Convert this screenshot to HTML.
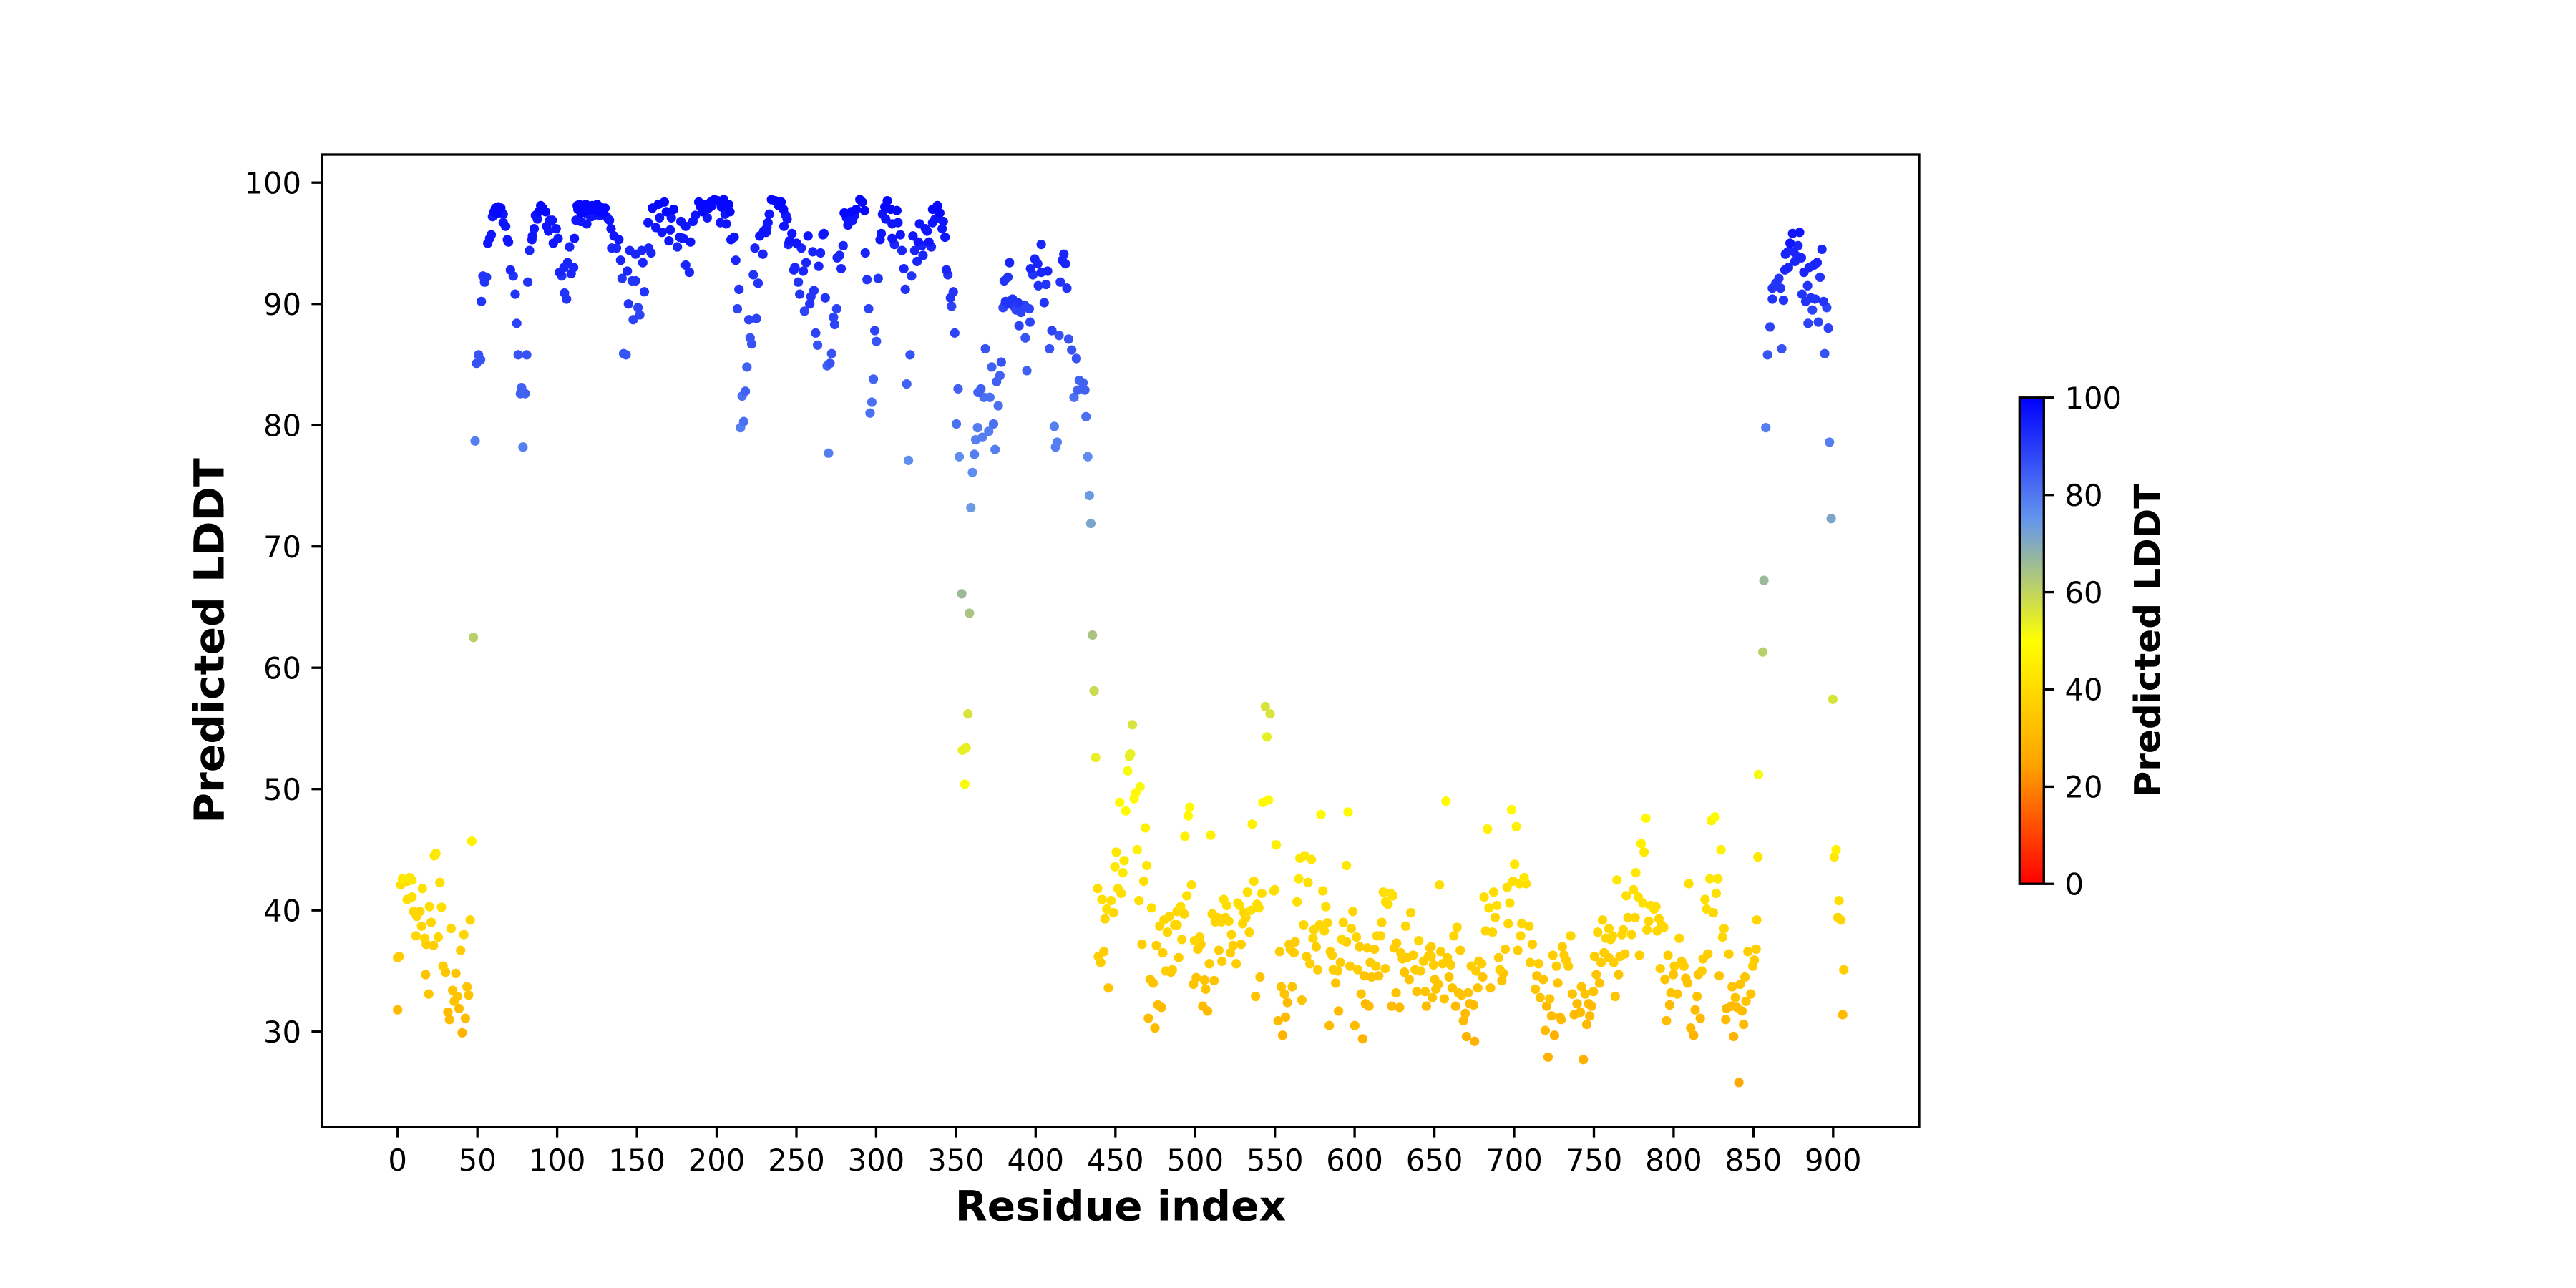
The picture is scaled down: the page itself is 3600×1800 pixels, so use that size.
<!DOCTYPE html>
<html>
<head>
<meta charset="utf-8">
<style>
html,body{margin:0;padding:0;background:#fff;}
svg{display:block;}
text{font-family:"DejaVu Sans","Liberation Sans",sans-serif;fill:#000;}
</style>
</head>
<body>
<svg width="3600" height="1800" viewBox="0 0 3600 1800" xmlns="http://www.w3.org/2000/svg">
<defs>
<ellipse id="d" cx="0" cy="0" rx="2.961" ry="0.3894"/>
<linearGradient id="cm" x1="0" y1="0" x2="0" y2="1">
<stop offset="0" stop-color="#0000ff"/>
<stop offset="0.25" stop-color="#6495ed"/>
<stop offset="0.5" stop-color="#ffff00"/>
<stop offset="0.75" stop-color="#ffa500"/>
<stop offset="1" stop-color="#ff0000"/>
</linearGradient>
</defs>
<rect x="0" y="0" width="3600" height="1800" fill="#fff"/>

<!-- data points -->
<g transform="matrix(2.229,0,0,-16.95,555.7,1950.2)">
<g fill="#ffaa00"><use href="#d" x="840.9" y="25.8"/></g>
<g fill="#ffb300"><use href="#d" x="40.5" y="29.9"/><use href="#d" x="605" y="29.4"/><use href="#d" x="554.9" y="29.7"/><use href="#d" x="670.1" y="29.6"/><use href="#d" x="675.2" y="29.2"/><use href="#d" x="725.3" y="29.7"/><use href="#d" x="721.3" y="27.9"/><use href="#d" x="743.4" y="27.7"/><use href="#d" x="812.5" y="29.7"/><use href="#d" x="837.6" y="29.6"/></g>
<g fill="#ffbb00"><use href="#d" x="0" y="31.8"/><use href="#d" x="31.5" y="31.6"/><use href="#d" x="32.5" y="31"/><use href="#d" x="38.5" y="31.9"/><use href="#d" x="42.5" y="31.1"/><use href="#d" x="606.8" y="32.3"/><use href="#d" x="609" y="32.1"/><use href="#d" x="623.3" y="32.1"/><use href="#d" x="628.2" y="32"/><use href="#d" x="589.9" y="31.7"/><use href="#d" x="584.1" y="30.5"/><use href="#d" x="600.1" y="30.5"/><use href="#d" x="557.9" y="32.4"/><use href="#d" x="552" y="30.9"/><use href="#d" x="556.7" y="31.2"/><use href="#d" x="476.7" y="32.2"/><use href="#d" x="479" y="32"/><use href="#d" x="470.7" y="31.1"/><use href="#d" x="474.8" y="30.3"/><use href="#d" x="504.8" y="32.1"/><use href="#d" x="507.8" y="31.7"/><use href="#d" x="645" y="32.1"/><use href="#d" x="663.3" y="32.1"/><use href="#d" x="672.2" y="32.3"/><use href="#d" x="674.6" y="32.2"/><use href="#d" x="669.4" y="31.5"/><use href="#d" x="668.2" y="30.9"/><use href="#d" x="720.4" y="32.1"/><use href="#d" x="723.5" y="31.3"/><use href="#d" x="728.8" y="31.2"/><use href="#d" x="729.5" y="31"/><use href="#d" x="719.5" y="30.1"/><use href="#d" x="739.5" y="32.3"/><use href="#d" x="746.7" y="32.3"/><use href="#d" x="748.5" y="32.1"/><use href="#d" x="737.7" y="31.4"/><use href="#d" x="741.5" y="31.6"/><use href="#d" x="747.4" y="31.3"/><use href="#d" x="745.5" y="30.6"/><use href="#d" x="797.5" y="32.2"/><use href="#d" x="795.5" y="30.9"/><use href="#d" x="813.5" y="31.8"/><use href="#d" x="816.7" y="31.1"/><use href="#d" x="810.7" y="30.3"/><use href="#d" x="833.1" y="31.9"/><use href="#d" x="836.1" y="32.1"/><use href="#d" x="839.7" y="32"/><use href="#d" x="842.9" y="31.7"/><use href="#d" x="832.7" y="31"/><use href="#d" x="843.9" y="30.6"/><use href="#d" x="906" y="31.4"/></g>
<g fill="#ffc400"><use href="#d" x="17.5" y="34.7"/><use href="#d" x="19.5" y="33.1"/><use href="#d" x="30" y="34.9"/><use href="#d" x="34.5" y="33.4"/><use href="#d" x="35.5" y="32.5"/><use href="#d" x="36.5" y="34.8"/><use href="#d" x="37.5" y="32.9"/><use href="#d" x="43.5" y="33.7"/><use href="#d" x="44.5" y="33"/><use href="#d" x="484.7" y="34.9"/><use href="#d" x="471.8" y="34.3"/><use href="#d" x="473.7" y="34"/><use href="#d" x="445.6" y="33.6"/><use href="#d" x="500.7" y="34.45"/><use href="#d" x="498.9" y="33.9"/><use href="#d" x="505.9" y="34.25"/><use href="#d" x="506.6" y="33.5"/><use href="#d" x="511.9" y="34.2"/><use href="#d" x="588.1" y="34"/><use href="#d" x="606.1" y="34.6"/><use href="#d" x="610.6" y="34.5"/><use href="#d" x="615.1" y="34.6"/><use href="#d" x="604.1" y="33.1"/><use href="#d" x="631.2" y="34.9"/><use href="#d" x="634.2" y="34.3"/><use href="#d" x="626" y="33.2"/><use href="#d" x="639" y="33.3"/><use href="#d" x="644.2" y="33.3"/><use href="#d" x="540.7" y="34.5"/><use href="#d" x="537.9" y="32.9"/><use href="#d" x="554" y="33.7"/><use href="#d" x="556" y="33.1"/><use href="#d" x="560.9" y="33.7"/><use href="#d" x="566.9" y="32.6"/><use href="#d" x="693.2" y="34.8"/><use href="#d" x="692.3" y="34.2"/><use href="#d" x="680.3" y="34.5"/><use href="#d" x="659.2" y="34.5"/><use href="#d" x="650.2" y="34.3"/><use href="#d" x="652.5" y="33.9"/><use href="#d" x="651" y="33.5"/><use href="#d" x="648.7" y="32.8"/><use href="#d" x="661.2" y="33.6"/><use href="#d" x="665.2" y="33.2"/><use href="#d" x="667.1" y="33"/><use href="#d" x="671.2" y="33.2"/><use href="#d" x="677.2" y="33.6"/><use href="#d" x="685.2" y="33.6"/><use href="#d" x="656.2" y="32.7"/><use href="#d" x="714.2" y="34.6"/><use href="#d" x="718.3" y="34.3"/><use href="#d" x="713.3" y="33.5"/><use href="#d" x="716.3" y="32.8"/><use href="#d" x="722.3" y="32.7"/><use href="#d" x="727.4" y="34"/><use href="#d" x="736.5" y="33.1"/><use href="#d" x="742.2" y="33.7"/><use href="#d" x="744.5" y="33.1"/><use href="#d" x="749.7" y="33.3"/><use href="#d" x="751.5" y="34.7"/><use href="#d" x="753.6" y="34"/><use href="#d" x="765.5" y="34.7"/><use href="#d" x="763.4" y="32.9"/><use href="#d" x="794.6" y="34.3"/><use href="#d" x="799.8" y="34.7"/><use href="#d" x="798.3" y="33.2"/><use href="#d" x="802.3" y="33.1"/><use href="#d" x="807.6" y="34.4"/><use href="#d" x="808.8" y="34"/><use href="#d" x="815.5" y="34.7"/><use href="#d" x="814.7" y="32.9"/><use href="#d" x="828.6" y="34.6"/><use href="#d" x="836.7" y="33.7"/><use href="#d" x="841.7" y="33.9"/><use href="#d" x="844.7" y="34.5"/><use href="#d" x="838.7" y="32.8"/><use href="#d" x="845.4" y="32.5"/><use href="#d" x="848.4" y="33.1"/></g>
<g fill="#ffcd00"><use href="#d" x="0" y="36.1"/><use href="#d" x="1" y="36.2"/><use href="#d" x="18" y="37.2"/><use href="#d" x="22.5" y="37.1"/><use href="#d" x="28.5" y="35.4"/><use href="#d" x="39.5" y="36.7"/><use href="#d" x="503.6" y="37.2"/><use href="#d" x="501.7" y="36.8"/><use href="#d" x="466.7" y="37.2"/><use href="#d" x="475.7" y="37.1"/><use href="#d" x="479.7" y="36.5"/><use href="#d" x="489.7" y="36.1"/><use href="#d" x="442.8" y="36.6"/><use href="#d" x="439.3" y="36.2"/><use href="#d" x="440.8" y="35.7"/><use href="#d" x="514.9" y="36.7"/><use href="#d" x="522.1" y="36.5"/><use href="#d" x="523.8" y="37.1"/><use href="#d" x="528.8" y="37.2"/><use href="#d" x="516.8" y="35.8"/><use href="#d" x="525.8" y="35.6"/><use href="#d" x="508.9" y="35.6"/><use href="#d" x="481.7" y="35"/><use href="#d" x="485.7" y="35.1"/><use href="#d" x="553" y="36.6"/><use href="#d" x="559" y="37.2"/><use href="#d" x="562.7" y="37.4"/><use href="#d" x="559.7" y="36.8"/><use href="#d" x="562" y="36.5"/><use href="#d" x="569.9" y="36.2"/><use href="#d" x="572" y="35.6"/><use href="#d" x="576.9" y="35.1"/><use href="#d" x="575.9" y="37"/><use href="#d" x="584.8" y="36.6"/><use href="#d" x="585.9" y="36.3"/><use href="#d" x="591.1" y="35.7"/><use href="#d" x="586.6" y="35.1"/><use href="#d" x="589.3" y="35"/><use href="#d" x="597.1" y="35.4"/><use href="#d" x="594.9" y="37.4"/><use href="#d" x="603.1" y="37"/><use href="#d" x="608" y="36.9"/><use href="#d" x="612.4" y="36.8"/><use href="#d" x="602" y="35.1"/><use href="#d" x="609.8" y="35.7"/><use href="#d" x="613.3" y="35.4"/><use href="#d" x="619.2" y="35.2"/><use href="#d" x="626.3" y="37.3"/><use href="#d" x="624.8" y="36.9"/><use href="#d" x="629" y="36.5"/><use href="#d" x="630" y="36"/><use href="#d" x="633" y="36.1"/><use href="#d" x="636.7" y="36.3"/><use href="#d" x="643.2" y="35.8"/><use href="#d" x="646.2" y="36.2"/><use href="#d" x="647.2" y="36.9"/><use href="#d" x="637.9" y="35.1"/><use href="#d" x="641.2" y="35"/><use href="#d" x="648" y="37"/><use href="#d" x="654" y="36.6"/><use href="#d" x="666.2" y="36.7"/><use href="#d" x="694.4" y="36.8"/><use href="#d" x="690.3" y="36.1"/><use href="#d" x="702.3" y="36.7"/><use href="#d" x="711.4" y="37.2"/><use href="#d" x="648" y="36.2"/><use href="#d" x="649.5" y="35.5"/><use href="#d" x="655.2" y="35.6"/><use href="#d" x="658.2" y="36.1"/><use href="#d" x="660.3" y="35.5"/><use href="#d" x="673.1" y="35.4"/><use href="#d" x="677.9" y="35.8"/><use href="#d" x="679.7" y="35.6"/><use href="#d" x="676.1" y="35"/><use href="#d" x="691.1" y="35.1"/><use href="#d" x="710.1" y="35.7"/><use href="#d" x="715.3" y="35.6"/><use href="#d" x="724.3" y="36.3"/><use href="#d" x="726.5" y="35.4"/><use href="#d" x="730.2" y="37"/><use href="#d" x="731.4" y="36.3"/><use href="#d" x="732.5" y="35.9"/><use href="#d" x="734" y="35.4"/><use href="#d" x="750.4" y="36.2"/><use href="#d" x="754.5" y="35.7"/><use href="#d" x="756.4" y="36.5"/><use href="#d" x="759.4" y="36.1"/><use href="#d" x="762.4" y="35.7"/><use href="#d" x="766.4" y="36.2"/><use href="#d" x="769.4" y="36.4"/><use href="#d" x="778.6" y="36.3"/><use href="#d" x="796.5" y="36.3"/><use href="#d" x="791.6" y="35.2"/><use href="#d" x="800.5" y="35.4"/><use href="#d" x="805" y="35.8"/><use href="#d" x="806.5" y="35.4"/><use href="#d" x="817.7" y="35"/><use href="#d" x="818.5" y="36"/><use href="#d" x="821.5" y="36.4"/><use href="#d" x="834.6" y="36.4"/><use href="#d" x="846.6" y="36.6"/><use href="#d" x="851.7" y="36.8"/><use href="#d" x="850.6" y="35.9"/><use href="#d" x="849.6" y="35.4"/><use href="#d" x="906.7" y="35.1"/></g>
<g fill="#ffd600"><use href="#d" x="10" y="39.9"/><use href="#d" x="12" y="39.5"/><use href="#d" x="14" y="39.9"/><use href="#d" x="11.5" y="37.9"/><use href="#d" x="15" y="38.7"/><use href="#d" x="17" y="37.7"/><use href="#d" x="21" y="39"/><use href="#d" x="25.5" y="37.8"/><use href="#d" x="33.5" y="38.5"/><use href="#d" x="41.5" y="38"/><use href="#d" x="45.5" y="39.2"/><use href="#d" x="448.8" y="39.8"/><use href="#d" x="443.5" y="39.3"/><use href="#d" x="530.6" y="39.8"/><use href="#d" x="531.8" y="39.4"/><use href="#d" x="529.8" y="38.9"/><use href="#d" x="510.7" y="39.7"/><use href="#d" x="514.1" y="39.4"/><use href="#d" x="512.6" y="39.05"/><use href="#d" x="516.4" y="39.05"/><use href="#d" x="519" y="39.4"/><use href="#d" x="521.1" y="39.1"/><use href="#d" x="488.7" y="39.9"/><use href="#d" x="493.2" y="39.7"/><use href="#d" x="483.9" y="39.5"/><use href="#d" x="480.5" y="39.2"/><use href="#d" x="477.8" y="38.7"/><use href="#d" x="487.2" y="38.8"/><use href="#d" x="488.7" y="38.8"/><use href="#d" x="482.7" y="38.2"/><use href="#d" x="598.9" y="39.9"/><use href="#d" x="635.2" y="39.8"/><use href="#d" x="617" y="39"/><use href="#d" x="568" y="38.8"/><use href="#d" x="574.4" y="38.4"/><use href="#d" x="578" y="38.8"/><use href="#d" x="582.9" y="38.96"/><use href="#d" x="581" y="38.3"/><use href="#d" x="592.9" y="39"/><use href="#d" x="597.9" y="38.5"/><use href="#d" x="632" y="38.7"/><use href="#d" x="522.8" y="38"/><use href="#d" x="534" y="38.2"/><use href="#d" x="491.7" y="37.6"/><use href="#d" x="499.6" y="37.5"/><use href="#d" x="502.9" y="37.8"/><use href="#d" x="573.9" y="37.7"/><use href="#d" x="591.9" y="37.6"/><use href="#d" x="601.1" y="37.8"/><use href="#d" x="614" y="37.9"/><use href="#d" x="616.3" y="37.9"/><use href="#d" x="640.2" y="37.5"/><use href="#d" x="688.1" y="39.4"/><use href="#d" x="696.3" y="38.9"/><use href="#d" x="682.1" y="38.3"/><use href="#d" x="686.4" y="38.2"/><use href="#d" x="704.8" y="38.9"/><use href="#d" x="709.3" y="38.7"/><use href="#d" x="704.1" y="37.9"/><use href="#d" x="664.2" y="38.6"/><use href="#d" x="662.2" y="37.9"/><use href="#d" x="735.5" y="37.9"/><use href="#d" x="752.4" y="38.2"/><use href="#d" x="755.4" y="39.2"/><use href="#d" x="759.4" y="38.5"/><use href="#d" x="757.5" y="37.7"/><use href="#d" x="761.7" y="37.9"/><use href="#d" x="760.5" y="37.6"/><use href="#d" x="767.6" y="38"/><use href="#d" x="768.4" y="38.4"/><use href="#d" x="773.6" y="38"/><use href="#d" x="771.4" y="39.4"/><use href="#d" x="775.9" y="39.4"/><use href="#d" x="784.4" y="39.1"/><use href="#d" x="783.3" y="38.4"/><use href="#d" x="790.8" y="39.3"/><use href="#d" x="792.3" y="38.8"/><use href="#d" x="789.6" y="38.3"/><use href="#d" x="793.8" y="38.6"/><use href="#d" x="803.5" y="37.7"/><use href="#d" x="824.9" y="39.8"/><use href="#d" x="831.6" y="38.5"/><use href="#d" x="830.7" y="37.8"/><use href="#d" x="852.1" y="39.2"/><use href="#d" x="903" y="39.4"/><use href="#d" x="904.9" y="39.2"/></g>
<g fill="#ffdf00"><use href="#d" x="2" y="42.1"/><use href="#d" x="6" y="42.4"/><use href="#d" x="6" y="40.9"/><use href="#d" x="9" y="41.1"/><use href="#d" x="15.5" y="41.8"/><use href="#d" x="20" y="40.3"/><use href="#d" x="26.5" y="42.3"/><use href="#d" x="27.5" y="40.25"/><use href="#d" x="467.8" y="42.4"/><use href="#d" x="438.9" y="41.8"/><use href="#d" x="451.6" y="41.8"/><use href="#d" x="453.6" y="41.4"/><use href="#d" x="441.6" y="40.9"/><use href="#d" x="447.3" y="40.8"/><use href="#d" x="444.6" y="40.1"/><use href="#d" x="464.8" y="40.8"/><use href="#d" x="472.7" y="40.2"/><use href="#d" x="570.8" y="42.3"/><use href="#d" x="580.1" y="41.6"/><use href="#d" x="563.9" y="40.7"/><use href="#d" x="581.9" y="40.3"/><use href="#d" x="497.7" y="42.1"/><use href="#d" x="494.8" y="41.2"/><use href="#d" x="536.8" y="42.4"/><use href="#d" x="532.8" y="41.5"/><use href="#d" x="541.8" y="41.4"/><use href="#d" x="549.3" y="41.6"/><use href="#d" x="550" y="41.7"/><use href="#d" x="517.9" y="40.9"/><use href="#d" x="519.8" y="40.4"/><use href="#d" x="526.8" y="40.6"/><use href="#d" x="527.9" y="40.4"/><use href="#d" x="538.8" y="40.5"/><use href="#d" x="540" y="40.2"/><use href="#d" x="535" y="40"/><use href="#d" x="490.9" y="40.3"/><use href="#d" x="618" y="41.5"/><use href="#d" x="622.5" y="41.4"/><use href="#d" x="624" y="41.2"/><use href="#d" x="619.5" y="40.7"/><use href="#d" x="621" y="40.5"/><use href="#d" x="653.2" y="42.1"/><use href="#d" x="695.6" y="41.9"/><use href="#d" x="699.3" y="42.4"/><use href="#d" x="703.3" y="42.2"/><use href="#d" x="707.5" y="42.2"/><use href="#d" x="681.2" y="41.1"/><use href="#d" x="687.2" y="41.5"/><use href="#d" x="684.2" y="40.2"/><use href="#d" x="689.1" y="40.4"/><use href="#d" x="697.3" y="40.6"/><use href="#d" x="770.3" y="41.2"/><use href="#d" x="774.8" y="41.7"/><use href="#d" x="777.8" y="41.1"/><use href="#d" x="780.8" y="40.6"/><use href="#d" x="785.6" y="40.4"/><use href="#d" x="787.8" y="40.1"/><use href="#d" x="788.9" y="40.3"/><use href="#d" x="809.5" y="42.2"/><use href="#d" x="819.7" y="40.9"/><use href="#d" x="826.7" y="41.4"/><use href="#d" x="820.7" y="40.1"/><use href="#d" x="903.7" y="40.8"/></g>
<g fill="#ffe800"><use href="#d" x="3" y="42.6"/><use href="#d" x="7.5" y="42.7"/><use href="#d" x="9" y="42.5"/><use href="#d" x="24" y="44.7"/><use href="#d" x="23" y="44.5"/><use href="#d" x="450.6" y="44.8"/><use href="#d" x="455.5" y="44.1"/><use href="#d" x="449.7" y="43.6"/><use href="#d" x="454.7" y="43.1"/><use href="#d" x="469.7" y="43.7"/><use href="#d" x="565.7" y="44.3"/><use href="#d" x="568.7" y="44.5"/><use href="#d" x="572.9" y="44.2"/><use href="#d" x="594.9" y="43.7"/><use href="#d" x="565" y="42.6"/><use href="#d" x="700.3" y="43.8"/><use href="#d" x="706.3" y="42.7"/><use href="#d" x="764.5" y="42.5"/><use href="#d" x="776.3" y="43.1"/><use href="#d" x="781.5" y="44.8"/><use href="#d" x="822.7" y="42.6"/><use href="#d" x="827.8" y="42.6"/><use href="#d" x="852.9" y="44.4"/><use href="#d" x="900.7" y="44.4"/></g>
<g fill="#fff100"><use href="#d" x="46.5" y="45.7"/><use href="#d" x="468.8" y="46.8"/><use href="#d" x="463.7" y="45"/><use href="#d" x="535.8" y="47.1"/><use href="#d" x="493.6" y="46.1"/><use href="#d" x="509.8" y="46.2"/><use href="#d" x="550.8" y="45.4"/><use href="#d" x="683.3" y="46.7"/><use href="#d" x="701.4" y="46.9"/><use href="#d" x="779.6" y="45.5"/><use href="#d" x="823.7" y="47.4"/><use href="#d" x="829.7" y="45"/><use href="#d" x="901.9" y="45"/></g>
<g fill="#fffa00"><use href="#d" x="462.8" y="49.7"/><use href="#d" x="461.8" y="49.2"/><use href="#d" x="452.7" y="48.9"/><use href="#d" x="456.5" y="48.2"/><use href="#d" x="496.6" y="48.5"/><use href="#d" x="495.7" y="47.8"/><use href="#d" x="542.5" y="48.9"/><use href="#d" x="546" y="49.1"/><use href="#d" x="578.9" y="47.9"/><use href="#d" x="595.9" y="48.1"/><use href="#d" x="657.3" y="49"/><use href="#d" x="698.4" y="48.3"/><use href="#d" x="782.6" y="47.6"/><use href="#d" x="826" y="47.7"/></g>
<g fill="#f7fa0c"><use href="#d" x="355.6" y="50.4"/><use href="#d" x="457.7" y="51.5"/><use href="#d" x="465.5" y="50.2"/><use href="#d" x="853.2" y="51.2"/></g>
<g fill="#e8ef24"><use href="#d" x="354.1" y="53.2"/><use href="#d" x="356.4" y="53.4"/><use href="#d" x="437.6" y="52.6"/><use href="#d" x="459.5" y="52.9"/><use href="#d" x="458.8" y="52.7"/><use href="#d" x="545" y="54.3"/></g>
<g fill="#d8e43b"><use href="#d" x="357.6" y="56.2"/><use href="#d" x="460.7" y="55.3"/><use href="#d" x="544" y="56.8"/><use href="#d" x="547" y="56.2"/><use href="#d" x="899.8" y="57.4"/></g>
<g fill="#c9da53"><use href="#d" x="436.7" y="58.1"/></g>
<g fill="#b9cf6b"><use href="#d" x="47.5" y="62.5"/><use href="#d" x="855.9" y="61.3"/></g>
<g fill="#aac582"><use href="#d" x="358.5" y="64.5"/><use href="#d" x="435.6" y="62.7"/></g>
<g fill="#9aba9a"><use href="#d" x="353.7" y="66.1"/><use href="#d" x="856.6" y="67.2"/></g>
<g fill="#7ba5c9"><use href="#d" x="434.6" y="71.9"/><use href="#d" x="898.8" y="72.3"/></g>
<g fill="#6c9ae1"><use href="#d" x="359.4" y="73.2"/><use href="#d" x="433.7" y="74.2"/></g>
<g fill="#5f8eee"><use href="#d" x="320.3" y="77.1"/><use href="#d" x="352.1" y="77.4"/><use href="#d" x="360.4" y="76.1"/><use href="#d" x="432.7" y="77.4"/></g>
<g fill="#557ff0"><use href="#d" x="48.6" y="78.7"/><use href="#d" x="78.6" y="78.2"/><use href="#d" x="215" y="79.8"/><use href="#d" x="270.2" y="77.7"/><use href="#d" x="361.6" y="77.6"/><use href="#d" x="362.4" y="78.8"/><use href="#d" x="366.6" y="79"/><use href="#d" x="370.6" y="79.5"/><use href="#d" x="363.6" y="79.8"/><use href="#d" x="374.6" y="78"/><use href="#d" x="411.7" y="79.9"/><use href="#d" x="413.5" y="78.6"/><use href="#d" x="412.5" y="78.2"/><use href="#d" x="857.8" y="79.8"/><use href="#d" x="897.7" y="78.6"/></g>
<g fill="#4b70f1"><use href="#d" x="216" y="82.4"/><use href="#d" x="217" y="80.3"/><use href="#d" x="297.3" y="81.9"/><use href="#d" x="296.2" y="81"/><use href="#d" x="350.3" y="80.1"/><use href="#d" x="373.6" y="80.1"/><use href="#d" x="367.6" y="82.3"/><use href="#d" x="371.3" y="82.3"/><use href="#d" x="376.6" y="81.6"/><use href="#d" x="424.1" y="82.3"/><use href="#d" x="431.6" y="80.7"/></g>
<g fill="#4161f3"><use href="#d" x="77.7" y="83.1"/><use href="#d" x="77" y="82.6"/><use href="#d" x="80" y="82.6"/><use href="#d" x="219" y="84.8"/><use href="#d" x="218" y="82.8"/><use href="#d" x="269.3" y="84.9"/><use href="#d" x="298.3" y="83.8"/><use href="#d" x="319.2" y="83.4"/><use href="#d" x="351.4" y="83"/><use href="#d" x="363.9" y="82.7"/><use href="#d" x="365.7" y="83"/><use href="#d" x="375.5" y="83.6"/><use href="#d" x="377.6" y="84.1"/><use href="#d" x="372.5" y="84.8"/><use href="#d" x="394.5" y="84.5"/><use href="#d" x="427.4" y="83.7"/><use href="#d" x="429.7" y="83.5"/><use href="#d" x="426.4" y="82.9"/><use href="#d" x="430.9" y="82.9"/></g>
<g fill="#3752f5"><use href="#d" x="49.5" y="85.1"/><use href="#d" x="52" y="85.4"/><use href="#d" x="50.7" y="85.8"/><use href="#d" x="75.6" y="85.8"/><use href="#d" x="80.9" y="85.8"/><use href="#d" x="141.7" y="85.9"/><use href="#d" x="143.2" y="85.8"/><use href="#d" x="221" y="87.2"/><use href="#d" x="222" y="86.7"/><use href="#d" x="263.3" y="86.6"/><use href="#d" x="272.1" y="85.9"/><use href="#d" x="271.1" y="85.1"/><use href="#d" x="300.2" y="86.9"/><use href="#d" x="321.3" y="85.8"/><use href="#d" x="378.5" y="85.2"/><use href="#d" x="368.5" y="86.3"/><use href="#d" x="393.5" y="87.2"/><use href="#d" x="408.7" y="86.3"/><use href="#d" x="414.7" y="87.4"/><use href="#d" x="420.7" y="87.1"/><use href="#d" x="422.6" y="86.2"/><use href="#d" x="425.6" y="85.5"/><use href="#d" x="867.8" y="86.3"/><use href="#d" x="858.9" y="85.8"/><use href="#d" x="894.7" y="85.9"/></g>
<g fill="#2d43f7"><use href="#d" x="74.7" y="88.4"/><use href="#d" x="150.7" y="89.7"/><use href="#d" x="151.8" y="89.1"/><use href="#d" x="147.7" y="88.7"/><use href="#d" x="213" y="89.6"/><use href="#d" x="220.2" y="88.7"/><use href="#d" x="225" y="88.8"/><use href="#d" x="255.1" y="89.4"/><use href="#d" x="275.3" y="89.6"/><use href="#d" x="273.3" y="88.9"/><use href="#d" x="274" y="88.3"/><use href="#d" x="262.1" y="87.6"/><use href="#d" x="295.3" y="89.6"/><use href="#d" x="299.2" y="87.8"/><use href="#d" x="347.3" y="89.8"/><use href="#d" x="349.3" y="87.6"/><use href="#d" x="379.6" y="89.7"/><use href="#d" x="387.8" y="89.5"/><use href="#d" x="390.8" y="89.3"/><use href="#d" x="393" y="89.9"/><use href="#d" x="396" y="89.6"/><use href="#d" x="386.5" y="89.8"/><use href="#d" x="389.6" y="88.2"/><use href="#d" x="396.5" y="88.5"/><use href="#d" x="410.2" y="87.8"/><use href="#d" x="896" y="89.7"/><use href="#d" x="887" y="89.5"/><use href="#d" x="860.4" y="88.1"/><use href="#d" x="884.3" y="88.4"/><use href="#d" x="890.7" y="88.5"/><use href="#d" x="897" y="88"/></g>
<g fill="#2334f9"><use href="#d" x="52.5" y="90.2"/><use href="#d" x="53.5" y="92.3"/><use href="#d" x="55.7" y="92.2"/><use href="#d" x="54.5" y="91.8"/><use href="#d" x="72.5" y="92.3"/><use href="#d" x="73.7" y="90.8"/><use href="#d" x="81.6" y="91.8"/><use href="#d" x="102.9" y="92.3"/><use href="#d" x="104.6" y="90.9"/><use href="#d" x="105.9" y="90.4"/><use href="#d" x="140.7" y="92.1"/><use href="#d" x="147" y="91.9"/><use href="#d" x="149.2" y="91.9"/><use href="#d" x="144.7" y="90"/><use href="#d" x="154.7" y="91"/><use href="#d" x="214" y="91.2"/><use href="#d" x="223" y="92.4"/><use href="#d" x="226" y="91.7"/><use href="#d" x="251.2" y="91.8"/><use href="#d" x="252.1" y="90.8"/><use href="#d" x="261" y="91.1"/><use href="#d" x="259.1" y="90.6"/><use href="#d" x="258.4" y="90"/><use href="#d" x="268.1" y="90.5"/><use href="#d" x="294.3" y="92"/><use href="#d" x="301.3" y="92.1"/><use href="#d" x="322.2" y="92.3"/><use href="#d" x="318.3" y="91.2"/><use href="#d" x="345" y="92.4"/><use href="#d" x="348.4" y="91"/><use href="#d" x="346.6" y="90.5"/><use href="#d" x="381.1" y="90.2"/><use href="#d" x="385.5" y="90.4"/><use href="#d" x="383" y="90"/><use href="#d" x="389" y="90.1"/><use href="#d" x="380.3" y="91.9"/><use href="#d" x="382.6" y="92.2"/><use href="#d" x="398.3" y="92.4"/><use href="#d" x="401.7" y="91.5"/><use href="#d" x="406.5" y="91.6"/><use href="#d" x="405.4" y="90.1"/><use href="#d" x="415.5" y="91.8"/><use href="#d" x="419.6" y="91.3"/><use href="#d" x="891.8" y="92.2"/><use href="#d" x="866" y="92.1"/><use href="#d" x="864.1" y="91.7"/><use href="#d" x="861.9" y="91.3"/><use href="#d" x="867.1" y="91.3"/><use href="#d" x="861.9" y="90.4"/><use href="#d" x="868.9" y="90.3"/><use href="#d" x="880.5" y="90.8"/><use href="#d" x="882.8" y="90.2"/><use href="#d" x="886.1" y="90.5"/><use href="#d" x="888.8" y="90.4"/><use href="#d" x="894" y="90.2"/><use href="#d" x="884" y="91.5"/></g>
<g fill="#1925fb"><use href="#d" x="70.7" y="92.8"/><use href="#d" x="82.7" y="94.4"/><use href="#d" x="101.4" y="92.6"/><use href="#d" x="104.3" y="93"/><use href="#d" x="106.6" y="93.4"/><use href="#d" x="108.8" y="92.5"/><use href="#d" x="110.3" y="93"/><use href="#d" x="107.8" y="94.7"/><use href="#d" x="134.2" y="94.6"/><use href="#d" x="137.2" y="94.6"/><use href="#d" x="139.8" y="93.6"/><use href="#d" x="144" y="92.7"/><use href="#d" x="145.5" y="94.4"/><use href="#d" x="149.2" y="94.1"/><use href="#d" x="153" y="94.4"/><use href="#d" x="157.4" y="94.6"/><use href="#d" x="158.9" y="94.2"/><use href="#d" x="153.7" y="93.4"/><use href="#d" x="175.4" y="94.7"/><use href="#d" x="180.6" y="93.2"/><use href="#d" x="182.9" y="92.6"/><use href="#d" x="212" y="93.6"/><use href="#d" x="224" y="94.6"/><use href="#d" x="229" y="94.1"/><use href="#d" x="244.9" y="94.9"/><use href="#d" x="253.1" y="94.6"/><use href="#d" x="260.3" y="94.3"/><use href="#d" x="265.1" y="94.2"/><use href="#d" x="256.1" y="93.4"/><use href="#d" x="249.1" y="93"/><use href="#d" x="248.4" y="92.8"/><use href="#d" x="254.3" y="92.7"/><use href="#d" x="264" y="93.1"/><use href="#d" x="279.3" y="94.8"/><use href="#d" x="277.1" y="94"/><use href="#d" x="275.6" y="93.8"/><use href="#d" x="278.1" y="92.9"/><use href="#d" x="293.2" y="94.2"/><use href="#d" x="311.5" y="94.9"/><use href="#d" x="316.2" y="94.4"/><use href="#d" x="317.4" y="92.9"/><use href="#d" x="328.7" y="94.8"/><use href="#d" x="334.6" y="94.7"/><use href="#d" x="324.2" y="94.4"/><use href="#d" x="329.4" y="94"/><use href="#d" x="325.7" y="93.5"/><use href="#d" x="344" y="92.8"/><use href="#d" x="383.6" y="93.4"/><use href="#d" x="396.8" y="92.9"/><use href="#d" x="399.5" y="93.7"/><use href="#d" x="401.3" y="93.3"/><use href="#d" x="403.5" y="92.6"/><use href="#d" x="407.5" y="92.7"/><use href="#d" x="403.5" y="94.9"/><use href="#d" x="417.7" y="94.1"/><use href="#d" x="416.7" y="93.6"/><use href="#d" x="418.7" y="93.3"/><use href="#d" x="871.6" y="94.3"/><use href="#d" x="870.1" y="94.1"/><use href="#d" x="875.3" y="94.3"/><use href="#d" x="877.6" y="93.9"/><use href="#d" x="880.1" y="93.8"/><use href="#d" x="876.1" y="93.5"/><use href="#d" x="893" y="94.5"/><use href="#d" x="890" y="93.4"/><use href="#d" x="888" y="93.2"/><use href="#d" x="869.8" y="92.8"/><use href="#d" x="881.7" y="92.6"/><use href="#d" x="878" y="94.8"/><use href="#d" x="872" y="93"/><use href="#d" x="885" y="93"/></g>
<g fill="#0f16fd"><use href="#d" x="56.5" y="95"/><use href="#d" x="57.7" y="95.4"/><use href="#d" x="58.7" y="95.7"/><use href="#d" x="59.5" y="97.2"/><use href="#d" x="66.2" y="97.4"/><use href="#d" x="66.2" y="96.7"/><use href="#d" x="67.7" y="96.4"/><use href="#d" x="68.8" y="95.3"/><use href="#d" x="69.5" y="95.1"/><use href="#d" x="84.2" y="95.3"/><use href="#d" x="84.5" y="95.6"/><use href="#d" x="85.6" y="96.2"/><use href="#d" x="86.4" y="97.3"/><use href="#d" x="87.6" y="97"/><use href="#d" x="95.4" y="96.9"/><use href="#d" x="96.9" y="96.9"/><use href="#d" x="94.6" y="96"/><use href="#d" x="99.4" y="96.2"/><use href="#d" x="97.6" y="95"/><use href="#d" x="100.6" y="95.4"/><use href="#d" x="110.8" y="95.4"/><use href="#d" x="111.8" y="96.9"/><use href="#d" x="114.8" y="96.8"/><use href="#d" x="118.6" y="96.6"/><use href="#d" x="93.5" y="96.4"/><use href="#d" x="119" y="97.4"/><use href="#d" x="123" y="97.3"/><use href="#d" x="131" y="97.2"/><use href="#d" x="132" y="97"/><use href="#d" x="121.5" y="97.2"/><use href="#d" x="126.8" y="97.3"/><use href="#d" x="132.8" y="96.9"/><use href="#d" x="133.8" y="96.2"/><use href="#d" x="135.7" y="95.6"/><use href="#d" x="138.7" y="95.3"/><use href="#d" x="157" y="96.7"/><use href="#d" x="161.9" y="96.3"/><use href="#d" x="165.7" y="95.9"/><use href="#d" x="164.2" y="97.1"/><use href="#d" x="170.1" y="95.2"/><use href="#d" x="171.6" y="97.1"/><use href="#d" x="170.9" y="96.1"/><use href="#d" x="177.6" y="96.8"/><use href="#d" x="180.6" y="96.4"/><use href="#d" x="183.6" y="95.1"/><use href="#d" x="179.1" y="95.4"/><use href="#d" x="176.9" y="95.5"/><use href="#d" x="185.1" y="96.8"/><use href="#d" x="186.6" y="97.3"/><use href="#d" x="194.1" y="97.1"/><use href="#d" x="202.3" y="96.7"/><use href="#d" x="206" y="96.6"/><use href="#d" x="205.3" y="97.4"/><use href="#d" x="209" y="95.3"/><use href="#d" x="211" y="95.5"/><use href="#d" x="227" y="95.6"/><use href="#d" x="229.5" y="96"/><use href="#d" x="231.5" y="96.3"/><use href="#d" x="232.2" y="96.7"/><use href="#d" x="231" y="95.9"/><use href="#d" x="233" y="97.4"/><use href="#d" x="243.4" y="97.3"/><use href="#d" x="244.2" y="97"/><use href="#d" x="242.2" y="96.4"/><use href="#d" x="247.2" y="95.8"/><use href="#d" x="245.7" y="95.2"/><use href="#d" x="250.1" y="95"/><use href="#d" x="257.3" y="95.6"/><use href="#d" x="266.6" y="95.7"/><use href="#d" x="267.3" y="95.8"/><use href="#d" x="281.5" y="97.1"/><use href="#d" x="282.3" y="96.5"/><use href="#d" x="285.3" y="96.9"/><use href="#d" x="283.5" y="96.8"/><use href="#d" x="286.5" y="97.3"/><use href="#d" x="302.5" y="95.3"/><use href="#d" x="303.2" y="95.8"/><use href="#d" x="304" y="97.4"/><use href="#d" x="310" y="96.6"/><use href="#d" x="313.7" y="96.7"/><use href="#d" x="310" y="95.4"/><use href="#d" x="315.2" y="95.7"/><use href="#d" x="323.1" y="95.6"/><use href="#d" x="327.2" y="96.6"/><use href="#d" x="330.9" y="96.2"/><use href="#d" x="335.4" y="96.7"/><use href="#d" x="326.4" y="95.1"/><use href="#d" x="333.1" y="95.1"/><use href="#d" x="342.1" y="96.8"/><use href="#d" x="341.4" y="96.2"/><use href="#d" x="343.2" y="95.5"/><use href="#d" x="306" y="97"/><use href="#d" x="337" y="97"/><use href="#d" x="332" y="96"/><use href="#d" x="874.6" y="95.8"/><use href="#d" x="879" y="95.9"/><use href="#d" x="873" y="95"/></g>
<g fill="#0507fe"><use href="#d" x="61.3" y="97.9"/><use href="#d" x="64.7" y="97.9"/><use href="#d" x="62.5" y="97.5"/><use href="#d" x="63" y="98"/><use href="#d" x="60.5" y="97.6"/><use href="#d" x="89.7" y="98.1"/><use href="#d" x="92.8" y="97.6"/><use href="#d" x="112.6" y="98.1"/><use href="#d" x="88.5" y="97.6"/><use href="#d" x="91" y="97.9"/><use href="#d" x="113" y="97.8"/><use href="#d" x="114" y="98.2"/><use href="#d" x="115" y="97.5"/><use href="#d" x="116" y="98"/><use href="#d" x="117" y="97.6"/><use href="#d" x="118" y="98.2"/><use href="#d" x="120" y="98"/><use href="#d" x="121" y="97.7"/><use href="#d" x="122" y="98.1"/><use href="#d" x="124" y="97.9"/><use href="#d" x="125" y="98.2"/><use href="#d" x="126" y="97.6"/><use href="#d" x="127" y="98"/><use href="#d" x="128" y="97.7"/><use href="#d" x="129" y="97.5"/><use href="#d" x="130" y="97.9"/><use href="#d" x="159.7" y="97.9"/><use href="#d" x="163.4" y="98.2"/><use href="#d" x="167.2" y="98.4"/><use href="#d" x="173.1" y="97.8"/><use href="#d" x="188.8" y="98.4"/><use href="#d" x="196.3" y="98.4"/><use href="#d" x="198.6" y="98.6"/><use href="#d" x="190" y="98"/><use href="#d" x="191" y="97.6"/><use href="#d" x="192" y="98.2"/><use href="#d" x="193" y="97.8"/><use href="#d" x="195" y="97.9"/><use href="#d" x="197" y="98.1"/><use href="#d" x="168.5" y="97.6"/><use href="#d" x="200.8" y="98.5"/><use href="#d" x="204.5" y="98.6"/><use href="#d" x="207.5" y="98.2"/><use href="#d" x="208.3" y="97.6"/><use href="#d" x="203" y="98"/><use href="#d" x="234.4" y="98.6"/><use href="#d" x="236.7" y="98.5"/><use href="#d" x="238.9" y="98.1"/><use href="#d" x="240.4" y="98.4"/><use href="#d" x="241.9" y="97.8"/><use href="#d" x="280" y="97.5"/><use href="#d" x="284.5" y="97.6"/><use href="#d" x="287.5" y="97.8"/><use href="#d" x="289.8" y="98.6"/><use href="#d" x="291.3" y="98.4"/><use href="#d" x="292.8" y="97.7"/><use href="#d" x="307" y="98.5"/><use href="#d" x="309.2" y="97.8"/><use href="#d" x="313" y="97.7"/><use href="#d" x="335.4" y="97.8"/><use href="#d" x="338.4" y="98.1"/><use href="#d" x="339.9" y="97.5"/><use href="#d" x="305.5" y="98"/></g>
</g>

<!-- axes frame -->
<rect x="450" y="216" width="2232" height="1359" fill="none" stroke="#000" stroke-width="3.33"/>

<!-- y ticks -->
<g stroke="#000" stroke-width="3.33">
<line x1="435.4" y1="1441.7" x2="450" y2="1441.7"/>
<line x1="435.4" y1="1272.2" x2="450" y2="1272.2"/>
<line x1="435.4" y1="1102.7" x2="450" y2="1102.7"/>
<line x1="435.4" y1="933.2" x2="450" y2="933.2"/>
<line x1="435.4" y1="763.7" x2="450" y2="763.7"/>
<line x1="435.4" y1="594.2" x2="450" y2="594.2"/>
<line x1="435.4" y1="424.7" x2="450" y2="424.7"/>
<line x1="435.4" y1="255.2" x2="450" y2="255.2"/>
</g>
<g font-size="41.7" text-anchor="end">
<text x="421" y="1456.9">30</text>
<text x="421" y="1287.4">40</text>
<text x="421" y="1117.9">50</text>
<text x="421" y="948.4">60</text>
<text x="421" y="778.9">70</text>
<text x="421" y="609.4">80</text>
<text x="421" y="439.9">90</text>
<text x="421" y="270.4">100</text>
</g>

<!-- x ticks -->
<g stroke="#000" stroke-width="3.33">
<line x1="555.7" y1="1575" x2="555.7" y2="1589.6"/>
<line x1="667.2" y1="1575" x2="667.2" y2="1589.6"/>
<line x1="778.6" y1="1575" x2="778.6" y2="1589.6"/>
<line x1="890.1" y1="1575" x2="890.1" y2="1589.6"/>
<line x1="1001.5" y1="1575" x2="1001.5" y2="1589.6"/>
<line x1="1113" y1="1575" x2="1113" y2="1589.6"/>
<line x1="1224.4" y1="1575" x2="1224.4" y2="1589.6"/>
<line x1="1335.9" y1="1575" x2="1335.9" y2="1589.6"/>
<line x1="1447.3" y1="1575" x2="1447.3" y2="1589.6"/>
<line x1="1558.8" y1="1575" x2="1558.8" y2="1589.6"/>
<line x1="1670.2" y1="1575" x2="1670.2" y2="1589.6"/>
<line x1="1781.7" y1="1575" x2="1781.7" y2="1589.6"/>
<line x1="1893.1" y1="1575" x2="1893.1" y2="1589.6"/>
<line x1="2004.6" y1="1575" x2="2004.6" y2="1589.6"/>
<line x1="2116" y1="1575" x2="2116" y2="1589.6"/>
<line x1="2227.5" y1="1575" x2="2227.5" y2="1589.6"/>
<line x1="2338.9" y1="1575" x2="2338.9" y2="1589.6"/>
<line x1="2450.4" y1="1575" x2="2450.4" y2="1589.6"/>
<line x1="2561.8" y1="1575" x2="2561.8" y2="1589.6"/>
</g>
<g font-size="41.7" text-anchor="middle">
<text x="555.7" y="1635.9">0</text>
<text x="667.2" y="1635.9">50</text>
<text x="778.6" y="1635.9">100</text>
<text x="890.1" y="1635.9">150</text>
<text x="1001.5" y="1635.9">200</text>
<text x="1113" y="1635.9">250</text>
<text x="1224.4" y="1635.9">300</text>
<text x="1335.9" y="1635.9">350</text>
<text x="1447.3" y="1635.9">400</text>
<text x="1558.8" y="1635.9">450</text>
<text x="1670.2" y="1635.9">500</text>
<text x="1781.7" y="1635.9">550</text>
<text x="1893.1" y="1635.9">600</text>
<text x="2004.6" y="1635.9">650</text>
<text x="2116" y="1635.9">700</text>
<text x="2227.5" y="1635.9">750</text>
<text x="2338.9" y="1635.9">800</text>
<text x="2450.4" y="1635.9">850</text>
<text x="2561.8" y="1635.9">900</text>
</g>

<!-- axis labels -->
<text x="1566" y="1705.6" font-size="58.3" font-weight="bold" text-anchor="middle">Residue index</text>
<text transform="translate(312.6,895.5) rotate(-90)" font-size="58.3" font-weight="bold" text-anchor="middle">Predicted LDDT</text>

<!-- colorbar -->
<rect x="2822.3" y="555.75" width="33.98" height="679.5" fill="url(#cm)"/>
<rect x="2822.3" y="555.75" width="33.98" height="679.5" fill="none" stroke="#000" stroke-width="3.33"/>
<g stroke="#000" stroke-width="3.33">
<line x1="2856.3" y1="1235.25" x2="2870.9" y2="1235.25"/>
<line x1="2856.3" y1="1099.4" x2="2870.9" y2="1099.4"/>
<line x1="2856.3" y1="963.5" x2="2870.9" y2="963.5"/>
<line x1="2856.3" y1="827.6" x2="2870.9" y2="827.6"/>
<line x1="2856.3" y1="691.7" x2="2870.9" y2="691.7"/>
<line x1="2856.3" y1="555.75" x2="2870.9" y2="555.75"/>
</g>
<g font-size="41.7" text-anchor="start">
<text x="2885.5" y="1250.45">0</text>
<text x="2885.5" y="1114.6">20</text>
<text x="2885.5" y="978.7">40</text>
<text x="2885.5" y="842.8">60</text>
<text x="2885.5" y="706.9">80</text>
<text x="2885.5" y="570.95">100</text>
</g>
<text transform="translate(3018.5,895.5) rotate(-90)" font-size="50" font-weight="bold" text-anchor="middle">Predicted LDDT</text>
</svg>
</body>
</html>
